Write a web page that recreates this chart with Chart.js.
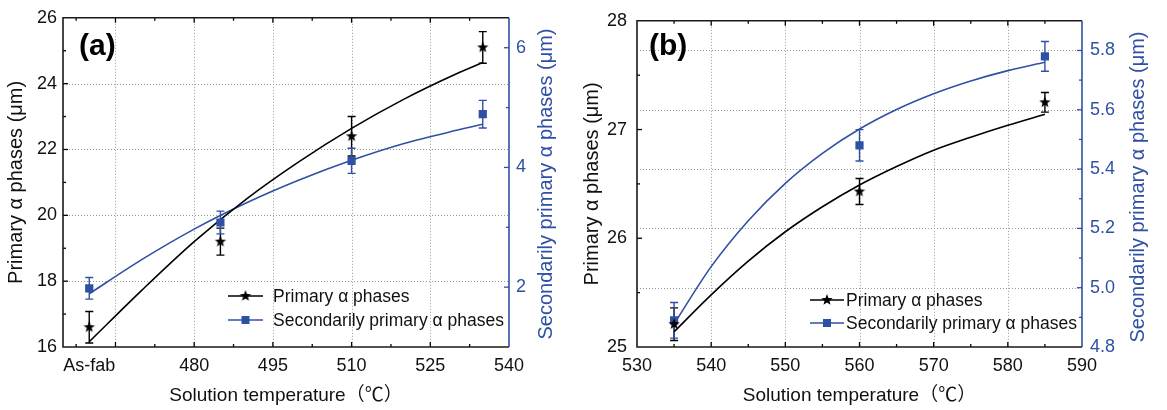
<!DOCTYPE html>
<html>
<head>
<meta charset="utf-8">
<title>Primary and secondarily primary α phase size vs. solution temperature</title>
<script src="https://cdn.jsdelivr.net/npm/chart.js@4.4.1/dist/chart.umd.min.js"></script>
<style>
  html, body { margin: 0; padding: 0; background: #fff; }
  #wrap { position: relative; width: 1167px; height: 410px; overflow: hidden; }
  canvas { position: absolute; top: 0; }
  #chartA { left: 0; }
  #chartB { left: 580px; }
</style>
</head>
<body>
<div id="wrap">
  <canvas id="chartA" width="580" height="410"></canvas>
  <canvas id="chartB" width="587" height="410"></canvas>
</div>
<script>
// ---------- Panel (a): as-fabricated and 485–535 ℃ ----------
// 460 on the temperature axis stands for the as-fabricated state.
const tempA = [460, 485, 510, 535];
const primaryA = [16.6, 19.2, 22.4, 25.1];
const primaryErrA = [0.48, 0.41, 0.6, 0.48];
const secondaryA = [1.98, 3.08, 4.11, 4.89];
const secondaryErrA = [0.18, 0.19, 0.21, 0.23];
const fitTempA = [460, 470, 480, 490, 500, 510, 520, 530, 535];
const primaryFitA = [16.16, 17.72, 19.2, 20.5, 21.63, 22.64, 23.53, 24.3, 24.64];
const secondaryFitA = [1.89, 2.46, 2.97, 3.41, 3.79, 4.12, 4.40, 4.62, 4.72];

const xTicksA = [460, 480, 495, 510, 525, 540];
const xLabelsA = ['As-fab', '480', '495', '510', '525', '540'];
const yTicksA = [16, 18, 20, 22, 24, 26];
const y2TicksA = [2, 4, 6];

// ---------- Panel (b): 535–585 ℃ ----------
const tempB = [535, 560, 585];
const primaryB = [25.21, 26.43, 27.25];
const primaryErrB = [0.15, 0.12, 0.09];
const secondaryB = [4.89, 5.48, 5.78];
const secondaryErrB = [0.06, 0.053, 0.05];
const fitTempB = [535, 540, 545, 550, 555, 560, 565, 570, 575, 580, 585];
const primaryFitB = [25.14, 25.48, 25.79, 26.06, 26.29, 26.49, 26.66, 26.81, 26.93, 27.04, 27.14];
const secondaryFitB = [4.878, 5.071, 5.226, 5.352, 5.453, 5.535, 5.601, 5.654, 5.697, 5.732, 5.76];

const xTicksB = [530, 540, 550, 560, 570, 580, 590];
const yTicksB = [25, 26, 27, 28];
const y2TicksB = [4.8, 5.0, 5.2, 5.4, 5.6, 5.8];

const seriesNames = ['Primary α phases', 'Secondarily primary α phases'];
const xTitle = 'Solution temperature（℃）';
const yTitle = 'Primary α phases (μm)';
const y2Title = 'Secondarily primary α phases (μm)';

// ---------- styling ----------
const BLUE = '#2f51a3';
const BLACK = '#000';
const FONT = "'Liberation Sans', Arial, 'Noto Sans CJK SC', sans-serif";
Chart.defaults.font.family = FONT;
Chart.defaults.color = '#111';

// filled five-pointed star used as the marker of the primary series
function makeStar(r) {
  const size = Math.ceil(r * 2 + 2);
  const c = document.createElement('canvas');
  c.width = size; c.height = size;
  const g = c.getContext('2d');
  g.translate(size / 2, size / 2);
  g.beginPath();
  for (let i = 0; i < 10; i++) {
    const rad = i % 2 ? r * 0.42 : r;
    const a = -Math.PI / 2 + i * Math.PI / 5;
    g.lineTo(rad * Math.cos(a), rad * Math.sin(a));
  }
  g.closePath();
  g.fillStyle = BLACK;
  g.fill();
  return c;
}
const STAR = makeStar(6);

const pts = (xs, ys) => xs.map((x, i) => ({ x, y: ys[i] }));

// grid, error bars, inward ticks, frame, legend and panel letter
function decorPlugin(cfg) {
  return {
    id: 'decor',
    beforeDatasetsDraw(chart) {
      const { ctx, chartArea: a, scales } = chart;
      ctx.save();
      ctx.strokeStyle = '#9a9a9a';
      ctx.lineWidth = 1;
      ctx.setLineDash([1, 2]);
      cfg.gridX.forEach(v => {
        const x = Math.round(scales.x.getPixelForValue(v)) + 0.5;
        ctx.beginPath(); ctx.moveTo(x, a.top); ctx.lineTo(x, a.bottom); ctx.stroke();
      });
      const gs = scales[cfg.gridYScale];
      cfg.gridY.forEach(v => {
        const y = Math.round(gs.getPixelForValue(v)) + 0.5;
        ctx.beginPath(); ctx.moveTo(a.left, y); ctx.lineTo(a.right, y); ctx.stroke();
      });
      ctx.setLineDash([]);
      // error bars
      cfg.errors.forEach(e => {
        const ys = scales[e.axis];
        ctx.strokeStyle = e.color;
        ctx.lineWidth = 1.4;
        e.x.forEach((xv, i) => {
          const x = scales.x.getPixelForValue(xv);
          const yt = ys.getPixelForValue(e.y[i] + e.err[i]);
          const yb = ys.getPixelForValue(e.y[i] - e.err[i]);
          ctx.beginPath();
          ctx.moveTo(x, yt); ctx.lineTo(x, yb);
          ctx.moveTo(x - 4, yt); ctx.lineTo(x + 4, yt);
          ctx.moveTo(x - 4, yb); ctx.lineTo(x + 4, yb);
          ctx.stroke();
        });
      });
      ctx.restore();
    },
    afterDraw(chart) {
      const { ctx, chartArea: a, scales } = chart;
      ctx.save();
      // inward tick marks
      const tick = (color, list, fn) => {
        ctx.strokeStyle = color; ctx.lineWidth = 1.3;
        list.forEach(fn);
      };
      const xTick = (len) => v => {
        const x = scales.x.getPixelForValue(v);
        ctx.beginPath();
        ctx.moveTo(x, a.bottom); ctx.lineTo(x, a.bottom - len);
        ctx.moveTo(x, a.top); ctx.lineTo(x, a.top + len);
        ctx.stroke();
      };
      tick(BLACK, cfg.xMajor, xTick(5));
      tick(BLACK, cfg.xMinor, xTick(3));
      const yTick = (len) => v => {
        const y = scales.y.getPixelForValue(v);
        ctx.beginPath(); ctx.moveTo(a.left, y); ctx.lineTo(a.left + len, y); ctx.stroke();
      };
      tick(BLACK, cfg.yMajor, yTick(5));
      tick(BLACK, cfg.yMinor, yTick(3));
      const y2Tick = (len) => v => {
        const y = scales.y2.getPixelForValue(v);
        ctx.beginPath(); ctx.moveTo(a.right, y); ctx.lineTo(a.right - len, y); ctx.stroke();
      };
      tick(BLUE, cfg.y2Major, y2Tick(5));
      tick(BLUE, cfg.y2Minor, y2Tick(3));

      // frame
      ctx.lineWidth = 1.6;
      ctx.strokeStyle = '#1a1a1a';
      ctx.beginPath();
      ctx.moveTo(a.right, a.top); ctx.lineTo(a.left, a.top); ctx.lineTo(a.left, a.bottom); ctx.lineTo(a.right, a.bottom);
      ctx.stroke();
      ctx.strokeStyle = BLUE;
      ctx.beginPath(); ctx.moveTo(a.right, a.top); ctx.lineTo(a.right, a.bottom); ctx.stroke();

      // right axis title, reading bottom to top
      ctx.save();
      ctx.translate(cfg.y2TitleX, cfg.y2TitleY);
      ctx.rotate(-Math.PI / 2);
      ctx.fillStyle = BLUE;
      ctx.font = '20px ' + FONT;
      ctx.textAlign = 'center';
      ctx.textBaseline = 'middle';
      ctx.fillText(y2Title, 0, 0);
      ctx.restore();

      // legend
      const L = cfg.legend;
      ctx.font = '17.5px ' + FONT;
      ctx.textAlign = 'left';
      ctx.textBaseline = 'middle';
      [0, 1].forEach(i => {
        const y = L.rows[i];
        const color = i === 0 ? BLACK : BLUE;
        ctx.strokeStyle = color; ctx.lineWidth = 1.5;
        ctx.beginPath(); ctx.moveTo(L.x1, y); ctx.lineTo(L.x2, y); ctx.stroke();
        const mx = (L.x1 + L.x2) / 2;
        if (i === 0) {
          ctx.drawImage(STAR, mx - STAR.width / 2, y - STAR.height / 2);
        } else {
          ctx.fillStyle = BLUE;
          ctx.fillRect(mx - 4, y - 4, 8, 8);
        }
        ctx.fillStyle = '#111';
        ctx.fillText(seriesNames[i], L.tx, y + 1);
      });

      // panel letter
      ctx.font = 'bold 30px ' + FONT;
      ctx.fillStyle = BLACK;
      ctx.textBaseline = 'middle';
      ctx.fillText(cfg.letter, cfg.letterX, cfg.letterY);
      ctx.restore();
    }
  };
}

function makePanel(canvasId, d, cfg) {
  const tickFont = { size: 18 };
  const fixTicks = values => scale => { scale.ticks = values.map(v => ({ value: v })); };
  new Chart(document.getElementById(canvasId), {
    type: 'scatter',
    data: {
      datasets: [
        { label: seriesNames[0], data: pts(d.t, d.p), yAxisID: 'y', pointStyle: STAR,
          pointRadius: 6, pointHoverRadius: 6, showLine: false, backgroundColor: BLACK, borderColor: BLACK },
        { label: seriesNames[1], data: pts(d.t, d.s), yAxisID: 'y2', pointStyle: 'rect',
          pointRadius: 5.8, pointHoverRadius: 5.8, borderWidth: 0, showLine: false, backgroundColor: BLUE, borderColor: BLUE },
        { label: 'fit-primary', data: pts(d.ft, d.fp), yAxisID: 'y', showLine: true, pointRadius: 0,
          borderColor: BLACK, borderWidth: 1.6, cubicInterpolationMode: 'monotone' },
        { label: 'fit-secondary', data: pts(d.ft, d.fs), yAxisID: 'y2', showLine: true, pointRadius: 0,
          borderColor: BLUE, borderWidth: 1.6, cubicInterpolationMode: 'monotone' }
      ]
    },
    options: {
      responsive: false,
      animation: false,
      devicePixelRatio: 1,
      layout: { padding: { top: 15, left: 0, right: 0, bottom: 0 }, autoPadding: false },
      plugins: { legend: { display: false }, tooltip: { enabled: false } },
      scales: {
        x: {
          type: 'linear', position: 'bottom', min: cfg.xMin, max: cfg.xMax,
          afterBuildTicks: fixTicks(cfg.xTicks),
          ticks: { callback: v => cfg.xLabel(v), font: tickFont, color: '#111', padding: 8,
                   maxRotation: 0, autoSkip: false },
          grid: { display: false, drawTicks: false }, border: { display: false },
          title: { display: true, text: xTitle, font: { size: 19 }, color: '#111', padding: { top: 0, bottom: 3 } },
          afterFit: s => { s.height = cfg.xHeight; }
        },
        y: {
          position: 'left', min: cfg.yMin, max: cfg.yMax,
          afterBuildTicks: fixTicks(cfg.yTicks),
          ticks: { callback: v => String(v), font: tickFont, color: '#111', padding: cfg.yPad },
          grid: { display: false, drawTicks: false }, border: { display: false },
          title: { display: true, text: yTitle, font: { size: 20 }, color: '#111', padding: { top: cfg.yTitlePad, bottom: 0 } },
          afterFit: s => { s.width = cfg.yWidth; }
        },
        y2: {
          position: 'right', min: cfg.y2Min, max: cfg.y2Max,
          afterBuildTicks: fixTicks(cfg.y2Ticks),
          ticks: { callback: v => cfg.y2Label(v), font: tickFont, color: BLUE, padding: cfg.y2Pad },
          grid: { display: false, drawTicks: false }, border: { display: false },
          afterFit: s => { s.width = cfg.y2Width; }
        }
      }
    },
    plugins: [decorPlugin(cfg)]
  });
}

// panel (a)
makePanel('chartA',
  { t: tempA, p: primaryA, s: secondaryA, ft: fitTempA, fp: primaryFitA, fs: secondaryFitA },
  {
    xMin: 455, xMax: 540, xTicks: xTicksA, xLabel: v => xLabelsA[xTicksA.indexOf(v)],
    yMin: 16, yMax: 26, yTicks: yTicksA, y2Min: 1, y2Max: 6.5, y2Ticks: y2TicksA,
    y2Label: v => String(v),
    xHeight: 63, yWidth: 63, y2Width: 71, yPad: 6, y2Pad: 7, yTitlePad: 4,
    gridX: [465, 480, 495, 510, 525], gridYScale: 'y', gridY: [18, 20, 22, 24],
    xMajor: [465, 480, 495, 510, 525], xMinor: [457.5, 472.5, 487.5, 502.5, 517.5, 532.5],
    yMajor: [18, 20, 22, 24], yMinor: [17, 19, 21, 23, 25],
    y2Major: [2, 4, 6], y2Minor: [3, 5],
    errors: [
      { axis: 'y', color: BLACK, x: tempA, y: primaryA, err: primaryErrA },
      { axis: 'y2', color: BLUE, x: tempA, y: secondaryA, err: secondaryErrA }
    ],
    legend: { x1: 228, x2: 263, tx: 273, rows: [296, 320] },
    letter: '(a)', letterX: 79, letterY: 47,
    y2TitleX: 546, y2TitleY: 184
  });

// panel (b)
makePanel('chartB',
  { t: tempB, p: primaryB, s: secondaryB, ft: fitTempB, fp: primaryFitB, fs: secondaryFitB },
  {
    xMin: 530, xMax: 590, xTicks: xTicksB, xLabel: v => String(v),
    yMin: 25, yMax: 28, yTicks: yTicksB, y2Min: 4.8, y2Max: 5.9, y2Ticks: y2TicksB,
    y2Label: v => v.toFixed(1),
    xHeight: 63, yWidth: 57, y2Width: 85, yPad: 10, y2Pad: 8, yTitlePad: 0,
    gridX: [540, 550, 560, 570, 580], gridYScale: 'y2', gridY: [5.0, 5.2, 5.4, 5.6, 5.8],
    xMajor: [540, 550, 560, 570, 580], xMinor: [535, 545, 555, 565, 575, 585],
    yMajor: [26, 27], yMinor: [25.5, 26.5, 27.5],
    y2Major: [5.0, 5.2, 5.4, 5.6, 5.8], y2Minor: [4.9, 5.1, 5.3, 5.5, 5.7],
    errors: [
      { axis: 'y', color: BLACK, x: tempB, y: primaryB, err: primaryErrB },
      { axis: 'y2', color: BLUE, x: tempB, y: secondaryB, err: secondaryErrB }
    ],
    legend: { x1: 230, x2: 264, tx: 266, rows: [300, 323] },
    letter: '(b)', letterX: 69, letterY: 47,
    y2TitleX: 558, y2TitleY: 187
  });
</script>
</body>
</html>
